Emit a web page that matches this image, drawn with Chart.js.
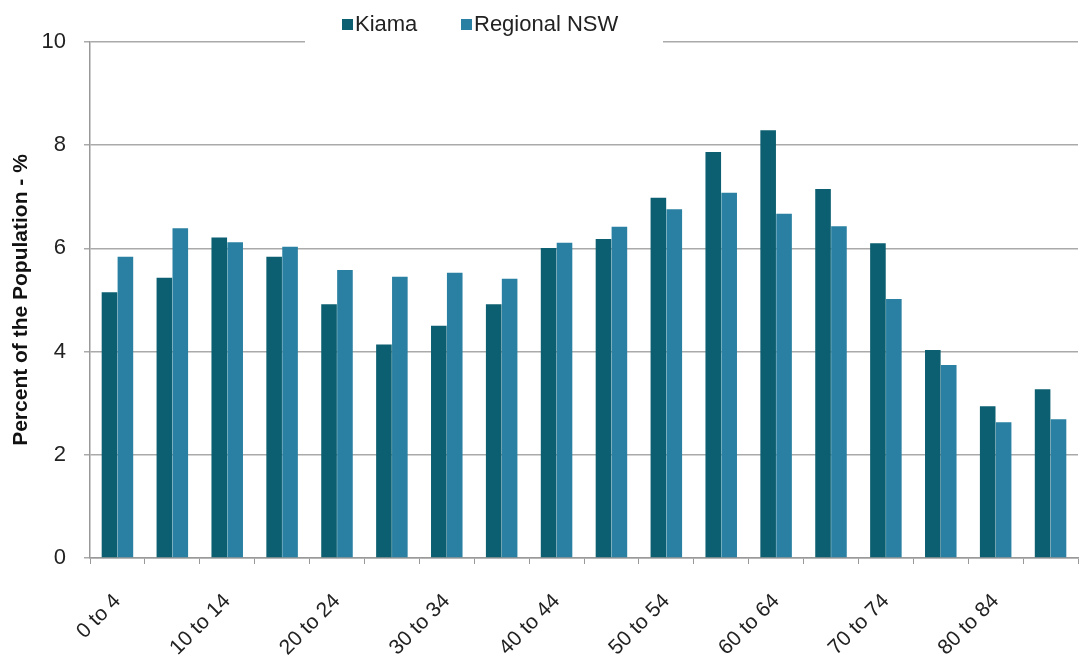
<!DOCTYPE html>
<html>
<head>
<meta charset="utf-8">
<script src="https://cdn.jsdelivr.net/npm/chart.js@4/dist/chart.umd.min.js"></script>
<style>
  html, body { margin: 0; padding: 0; background: #fff; }
  #wrap { width: 1084px; height: 659px; }
</style>
</head>
<body>
<div id="wrap"><canvas id="ageChart" width="1084" height="659"></canvas></div>
<script>
// age groups, 5 year bands
const ageGroups = [
  "0 to 4", "5 to 9", "10 to 14", "15 to 19", "20 to 24", "25 to 29",
  "30 to 34", "35 to 39", "40 to 44", "45 to 49", "50 to 54", "55 to 59",
  "60 to 64", "65 to 69", "70 to 74", "75 to 79", "80 to 84", "85 and over"
];
const kiamaPct = [5.15, 5.43, 6.21, 5.84, 4.92, 4.14, 4.50, 4.92, 6.01,
  6.18, 6.98, 7.87, 8.29, 7.15, 6.10, 4.03, 2.94, 3.27];
const regionalPct = [5.84, 6.39, 6.12, 6.03, 5.58, 5.45, 5.53, 5.41, 6.11,
  6.42, 6.76, 7.08, 6.67, 6.43, 5.02, 3.74, 2.63, 2.69];
const yTicks = [0, 2, 4, 6, 8, 10];

const KIAMA_COLOR = "#0b5f70";
const NSW_COLOR = "#2a80a2";
const FONT = '"Liberation Sans", Arial, Helvetica, sans-serif';

// legend drawn over the top gridline, with a white backing box
const topLegend = {
  id: "topLegend",
  afterDraw(chart) {
    const ctx = chart.ctx;
    ctx.save();
    ctx.fillStyle = "#fff";
    ctx.fillRect(305, 4, 358, 44);
    ctx.font = "22px " + FONT;
    ctx.textBaseline = "middle";
    const items = [
      { label: "Kiama", color: KIAMA_COLOR, x: 342 },
      { label: "Regional NSW", color: NSW_COLOR, x: 461 }
    ];
    items.forEach(it => {
      ctx.fillStyle = it.color;
      ctx.fillRect(it.x, 19, 11, 11);
      ctx.fillStyle = "#222";
      ctx.fillText(it.label, it.x + 13, 25);
    });
    ctx.restore();
  }
};

new Chart(document.getElementById("ageChart"), {
  type: "bar",
  data: {
    labels: ageGroups,
    datasets: [
      { label: "Kiama", data: kiamaPct, backgroundColor: KIAMA_COLOR,
        barPercentage: 0.98, categoryPercentage: 0.58 },
      { label: "Regional NSW", data: regionalPct, backgroundColor: NSW_COLOR,
        barPercentage: 0.98, categoryPercentage: 0.58 }
    ]
  },
  options: {
    responsive: false,
    animation: false,
    layout: { padding: { top: 42, right: 6, left: 0, bottom: 0 } },
    plugins: {
      legend: { display: false },
      tooltip: { enabled: false }
    },
    scales: {
      x: {
        afterFit(scale) {
          scale.height = 101;
          scale.paddingLeft = 0;
          scale.paddingRight = 0;
        },
        grid: {
          drawOnChartArea: false,
          color: "#999",
          tickLength: 6,
          lineWidth: 1
        },
        border: { color: "#999", width: 1.5 },
        ticks: {
          autoSkip: false,
          minRotation: 45,
          maxRotation: 45,
          padding: 25,
          color: "#222",
          font: { family: FONT, size: 21 },
          callback(v, i) { return i % 2 === 0 ? ageGroups[i] : ""; }
        }
      },
      y: {
        min: 0,
        max: 10,
        afterFit(scale) { scale.width = 90; },
        afterBuildTicks(scale) { scale.ticks = yTicks.map(v => ({ value: v })); },
        grid: { color: "#aaa", lineWidth: 1.5, tickLength: 6 },
        border: { color: "#999", width: 1.5 },
        ticks: {
          padding: 18,
          color: "#222",
          font: { family: FONT, size: 22 }
        },
        title: {
          display: true,
          text: "Percent of the Population - %",
          color: "#111",
          padding: { top: 9, bottom: 4 },
          font: { family: FONT, size: 21, weight: "bold" }
        }
      }
    }
  },
  plugins: [topLegend]
});
</script>
</body>
</html>
